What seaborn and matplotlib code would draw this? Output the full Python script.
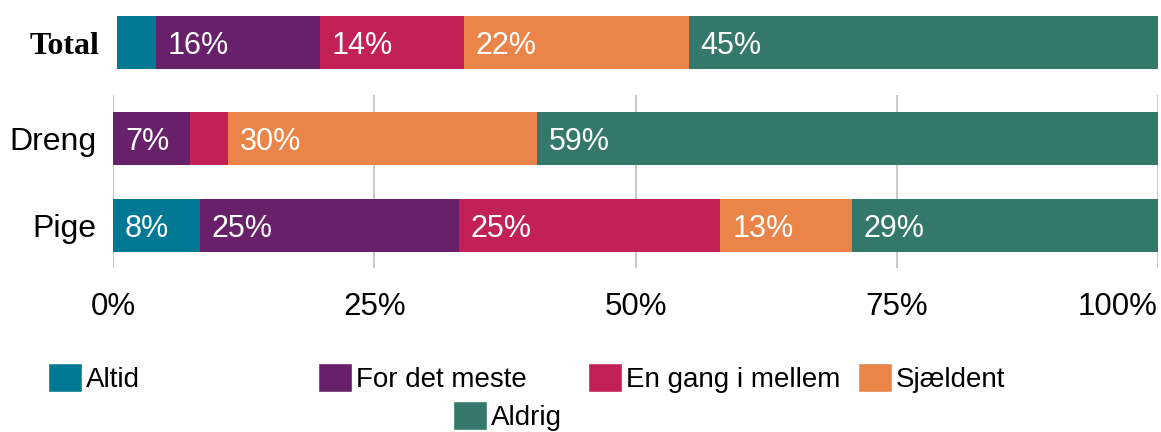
import pandas as pd
import matplotlib
matplotlib.use("Agg")
import matplotlib.pyplot as plt
import seaborn as sns
from matplotlib.patches import Patch

# Data (percent per answer category)
categories = ["Altid", "For det meste", "En gang i mellem", "Sjældent", "Aldrig"]
colors = ["#017894", "#68206a", "#c22056", "#ea8448", "#33786b"]
total_values = [3.7, 15.8, 13.8, 21.6, 45.1]
dreng_values = [0.0, 7.4, 3.6, 29.6, 59.4]
pige_values = [8.3, 24.8, 25.0, 12.6, 29.3]
groups = ["Dreng", "Pige"]
x_ticks = [0, 25, 50, 75, 100]
x_tick_labels = ["0%", "25%", "50%", "75%", "100%"]

sns.set_style("white")
plt.rcParams["font.family"] = ["Liberation Sans", "DejaVu Sans"]
plt.rcParams["text.color"] = "black"
plt.rcParams["xtick.color"] = "black"
plt.rcParams["ytick.color"] = "black"

W, H = 1161, 432
fig = plt.figure(figsize=(W / 100, H / 100), dpi=100)
ax_top = fig.add_axes([117 / W, 1 - 69 / H, 1041 / W, 53 / H])
ax = fig.add_axes([113 / W, 1 - 268 / H, 1045 / W, 173 / H])


def make_long(names, rows):
    recs = []
    for name, vals in zip(names, rows):
        cum = 0
        for cat, v in zip(categories, vals):
            cum += v
            recs.append({"group": name, "category": cat, "value": v, "cum": cum})
    return pd.DataFrame(recs)


def stacked(ax, df, width):
    # classic seaborn stacking: draw cumulative totals, last category first
    for cat, col in reversed(list(zip(categories, colors))):
        sub = df[df["category"] == cat]
        sns.barplot(data=sub, x="cum", y="group", color=col, saturation=1,
                    width=width, errorbar=None, linewidth=0, orient="h", ax=ax)
    order = list(dict.fromkeys(df["group"]))
    for _, r in df.iterrows():
        if r["value"] >= 5:
            ax.text(r["cum"] - r["value"] + 1.15, order.index(r["group"]),
                    f"{round(r['value'])}%", color="white", fontsize=22,
                    va="center_baseline", ha="left")
    ax.set_xlim(0, 100)
    ax.set_xlabel("")
    ax.set_ylabel("")
    for s in ax.spines.values():
        s.set_visible(False)


top_df = make_long(["Total"], [total_values])
main_df = make_long(groups, [dreng_values, pige_values])

stacked(ax_top, top_df, 1.0)
ax_top.set_ylim(0.5, -0.5)
ax_top.set_xticks([])
ax_top.tick_params(axis="y", length=0, pad=13)
for lab in ax_top.get_yticklabels():
    lab.set_fontfamily("Liberation Serif")
    lab.set_fontweight("bold")
    lab.set_fontsize(23)
    lab.set_va("center_baseline")

stacked(ax, main_df, 0.61)
ax.set_ylim(1.49, -0.5)
ax.set_axisbelow(True)
ax.grid(axis="x", color="#c4c4c4", linewidth=1.3)
ax.set_xticks(x_ticks)
ax.set_xticklabels(x_tick_labels)
ax.tick_params(axis="x", length=0, pad=17, labelsize=22.5)
ax.tick_params(axis="y", length=0, pad=12, labelsize=23)
for lab in ax.get_yticklabels():
    lab.set_va("center_baseline")
ax.get_xticklabels()[-1].set_ha("right")

# legend: four items on the first row, Aldrig centred on the second
legend_pos = [(48, 378), (318, 378), (588, 378), (858, 378), (453, 416)]
for cat, col, (px, py) in zip(categories, colors, legend_pos):
    fig.legend(handles=[Patch(facecolor=col)], labels=[cat], loc="center left",
               bbox_to_anchor=(px / W, 1 - py / H), frameon=False, fontsize=20,
               handlelength=1.22, handleheight=1.22, handletextpad=0.15,
               borderpad=0, borderaxespad=0)

fig.savefig("out.png", dpi=100)
